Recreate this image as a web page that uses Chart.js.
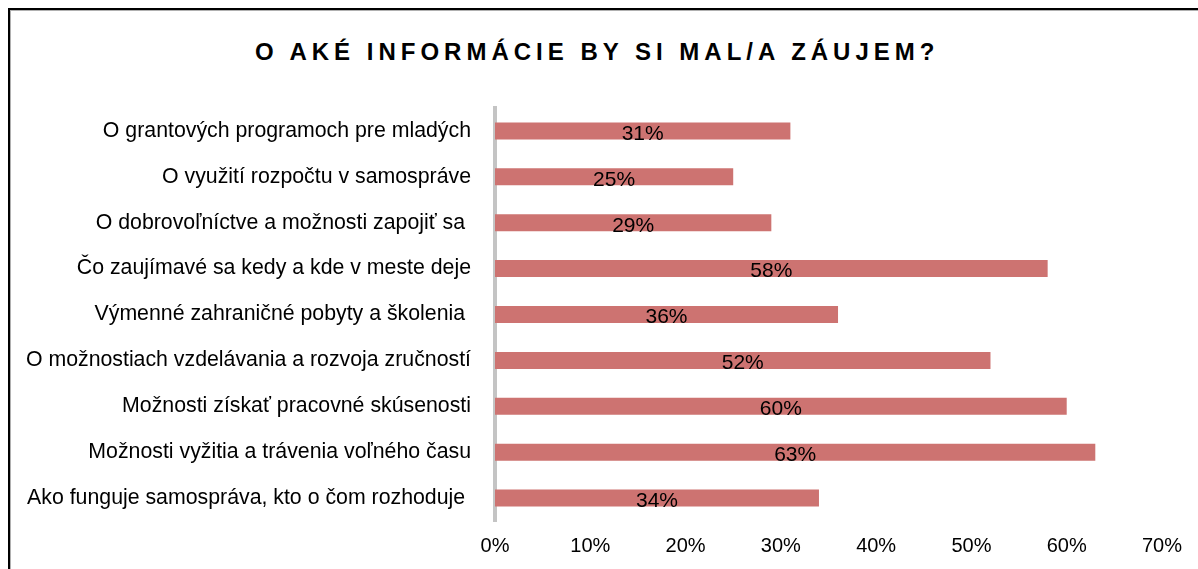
<!DOCTYPE html>
<html lang="sk">
<head>
    <meta charset="UTF-8">
    <title>O aké informácie by si mal/a záujem?</title>
    <script src="https://cdn.jsdelivr.net/npm/chart.js"></script>
    <style>
        * {
            margin: 0;
            padding: 0;
            box-sizing: border-box;
        }
        body {
            width: 1198px;
            height: 569px;
            overflow: hidden;
            background: #fff;
            position: relative;
            font-family: 'Liberation Sans', Arial, sans-serif;
        }
        .frame {
            position: absolute;
            left: 8px;
            top: 8px;
            width: 1300px;
            height: 700px;
            border: 2px solid #000;
            box-shadow: inset 1px 1px 0 #b0b0b0;
        }
        .title {
            position: absolute;
            left: 255px;
            top: 40px;
            font-size: 24px;
            line-height: 24px;
            font-weight: 700;
            letter-spacing: 5px;
            white-space: nowrap;
            color: #000;
        }
        #chart {
            position: absolute;
            left: 0;
            top: 0;
        }
    </style>
</head>
<body>
    <div class="frame"></div>
    <div class="title">O AKÉ INFORMÁCIE BY SI MAL/A ZÁUJEM?</div>
    <canvas id="chart" width="1198" height="569"></canvas>

    <script>
        const categories = [
            'O grantových programoch pre mladých',
            'O využití rozpočtu v samospráve',
            'O dobrovoľníctve a možnosti zapojiť sa ',
            'Čo zaujímavé sa kedy a kde v meste deje',
            'Výmenné zahraničné pobyty a školenia ',
            'O možnostiach vzdelávania a rozvoja zručností',
            'Možnosti získať pracovné skúsenosti',
            'Možnosti vyžitia a trávenia voľného času',
            'Ako funguje samospráva, kto o čom rozhoduje '
        ];
        const percentages = [31, 25, 29, 58, 36, 52, 60, 63, 34];
        const xTicks = [0, 10, 20, 30, 40, 50, 60, 70];

        const fontFamily = "'Liberation Sans', Arial, sans-serif";

        // percentage labels in the middle of each bar
        const barLabels = {
            id: 'barLabels',
            afterDatasetsDraw(chart) {
                const ctx = chart.ctx;
                const meta = chart.getDatasetMeta(0);
                ctx.save();
                ctx.font = '21px ' + fontFamily;
                ctx.fillStyle = '#000';
                ctx.textAlign = 'center';
                ctx.textBaseline = 'middle';
                meta.data.forEach((bar, i) => {
                    const x = (bar.x + bar.base) / 2;
                    ctx.fillText(percentages[i] + '%', x, bar.y + 3);
                });
                ctx.restore();
            }
        };

        new Chart(document.getElementById('chart').getContext('2d'), {
            type: 'bar',
            data: {
                labels: categories,
                datasets: [{
                    data: percentages,
                    backgroundColor: '#cd7371',
                    borderWidth: 0,
                    barPercentage: 0.37,
                    categoryPercentage: 1
                }]
            },
            options: {
                indexAxis: 'y',
                responsive: false,
                animation: false,
                layout: {
                    padding: { top: 108, right: 36, left: 0, bottom: 0 }
                },
                plugins: {
                    legend: { display: false },
                    tooltip: { enabled: false },
                    title: { display: false }
                },
                scales: {
                    x: {
                        min: 0,
                        max: 70,
                        afterBuildTicks(scale) {
                            scale.ticks = xTicks.map(v => ({ value: v }));
                        },
                        afterFit(scale) {
                            scale.height = 48;
                        },
                        grid: { display: false, drawTicks: false },
                        border: { display: false },
                        ticks: {
                            padding: 13,
                            color: '#000',
                            font: { family: fontFamily, size: 20 },
                            callback: v => v + '%'
                        }
                    },
                    y: {
                        afterFit(scale) {
                            scale.width = 495;
                        },
                        grid: { display: false, drawTicks: false },
                        border: { display: true, color: '#c4c4c4', width: 4 },
                        ticks: {
                            padding: 24,
                            color: '#000',
                            font: { family: fontFamily, size: 21.3 }
                        }
                    }
                }
            },
            plugins: [barLabels]
        });
    </script>
</body>
</html>
